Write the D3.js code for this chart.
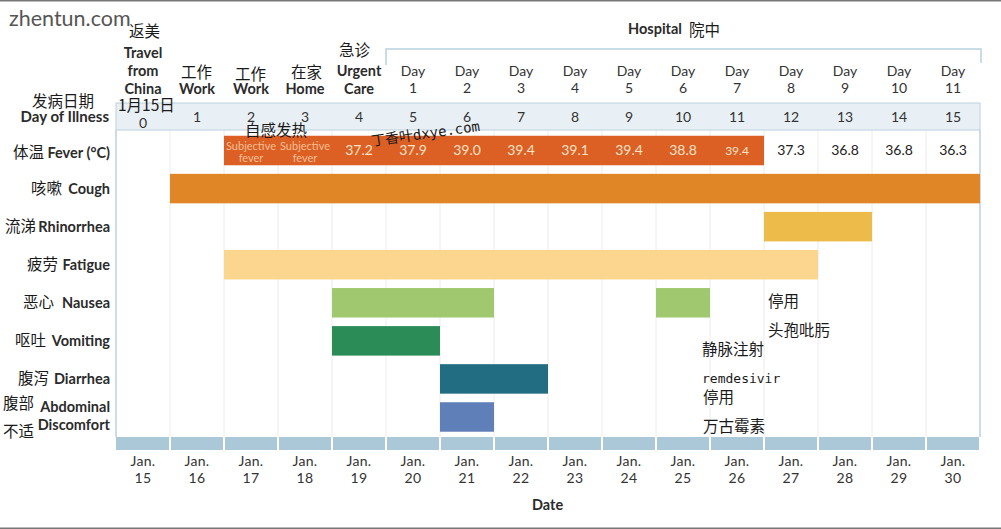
<!DOCTYPE html>
<html>
<head>
<meta charset="utf-8">
<script src="https://cdnjs.cloudflare.com/ajax/libs/d3/7.8.5/d3.min.js"></script>
<style>
    html, body { margin: 0; padding: 0; background: #fff; }
    svg { display: block; }
    text { font-family: Lato, "Noto Sans CJK SC", sans-serif; fill: #2b2b2b; }
    .cjk { font-family: "Noto Sans CJK SC", sans-serif; fill: #1a1a1a; }
    .bold { font-weight: 700; }
</style>
</head>
<body>
<svg id="chart" width="1001" height="529"></svg>
<script>
const dates = ["15", "16", "17", "18", "19", "20", "21", "22", "23", "24", "25", "26", "27", "28", "29", "30"]
const illnessDays = ["0", "1", "2", "3", "4", "5", "6", "7", "8", "9", "10", "11", "12", "13", "14", "15"]
const hospitalDays = ["1", "2", "3", "4", "5", "6", "7", "8", "9", "10", "11"]
const hospitalDates = ["20", "21", "22", "23", "24", "25", "26", "27", "28", "29", "30"]
const symptoms = ["Fever", "Cough", "Rhinorrhea", "Fatigue", "Nausea", "Vomiting", "Diarrhea", "Abdominal"]

// start and end date of each symptom bar, both inclusive
const barSymptoms = ["Fever", "Cough", "Rhinorrhea", "Fatigue", "Nausea", "Nausea", "Vomiting", "Diarrhea", "Abdominal"]
const barStarts = ["17", "16", "27", "17", "19", "25", "19", "21", "21"]
const barEnds = ["26", "30", "28", "27", "21", "25", "20", "22", "21"]

const tempDates = ["19", "20", "21", "22", "23", "24", "25", "26", "27", "28", "29", "30"]
const tempValues = ["37.2", "37.9", "39.0", "39.4", "39.1", "39.4", "38.8", "39.4", "37.3", "36.8", "36.8", "36.3"]

const rowNames = ["Fever (°C)", "Cough", "Rhinorrhea", "Fatigue", "Nausea", "Vomiting", "Diarrhea"]
const rowNamesCn = ["体温", "咳嗽", "流涕", "疲劳", "恶心", "呕吐", "腹泻"]

const svg = d3.select("#chart")

const x = d3.scaleBand().domain(dates).range([116, 980])
const y = d3.scaleBand().domain(symptoms).range([131.5, 436]).paddingInner(0.225).paddingOuter(0.112)
const color = d3.scaleOrdinal()
    .domain(symptoms)
    .range(["#dc5f24", "#e08627", "#ecbb4a", "#fcd58f", "#a0c96f", "#2c8c58", "#236d82", "#5f7fb8"])

// page frame of the screenshot
svg.append("rect").attr("x", 0).attr("y", 0).attr("width", 1001).attr("height", 1.5).attr("fill", "#777")
svg.append("rect").attr("x", 0).attr("y", 527.5).attr("width", 1001).attr("height", 1.5).attr("fill", "#777")

// grid
svg.append("g").selectAll("line")
    .data(dates.slice(1))
    .join("line")
    .attr("x1", d => x(d))
    .attr("x2", d => x(d))
    .attr("y1", 130)
    .attr("y2", 437)
    .attr("stroke", "#ececec")
    .attr("stroke-width", 1)

svg.append("rect")
    .attr("x", x.range()[0]).attr("y", 103)
    .attr("width", x.range()[1] - x.range()[0]).attr("height", 27)
    .attr("fill", "#e9f0f5").attr("stroke", "#b9d1de")

svg.selectAll(".edge")
    .data(x.range())
    .join("line")
    .attr("class", "edge")
    .attr("x1", d => d).attr("x2", d => d)
    .attr("y1", 130).attr("y2", 437)
    .attr("stroke", "#bcd2df").attr("stroke-width", 1.5)

// symptom bars
svg.append("g").selectAll("rect")
    .data(barSymptoms.map((s, i) => ({ s, start: barStarts[i], end: barEnds[i] })))
    .join("rect")
    .attr("x", d => x(d.start))
    .attr("y", d => y(d.s))
    .attr("width", d => x(d.end) + x.bandwidth() - x(d.start))
    .attr("height", y.bandwidth())
    .attr("fill", d => color(d.s))

// strip above the date axis
svg.append("g").selectAll("rect")
    .data(dates)
    .join("rect")
    .attr("x", d => x(d) + (d === dates[0] ? 0 : 1))
    .attr("y", 437)
    .attr("width", d => x.bandwidth() - (d === dates[0] ? 1 : 2))
    .attr("height", 13)
    .attr("fill", "#abc8d9")

// day of illness row
const dayAxis = d3.axisBottom(x).tickSize(0).tickFormat((d, i) => illnessDays[i])
svg.append("g").attr("transform", "translate(0,103)").call(dayAxis)
    .call(g => g.select(".domain").remove())
    .selectAll("text")
    .attr("y", d => d === "15" ? 15 : 9).attr("dy", "0.71em")
    .style("font-size", "14px")
    .style("font-family", "Lato")
    .style("fill", "#333")

// date axis, two lines per tick
const dateAxis = d3.axisBottom(x).tickSize(0).tickFormat("")
svg.append("g").attr("transform", "translate(0,450)").call(dateAxis)
    .call(g => g.select(".domain").remove())
    .selectAll(".tick text")
    .each(function (d) {
        const t = d3.select(this).attr("y", 6).style("font-size", "14px").style("font-family", "Lato").style("fill", "#333").style("letter-spacing", "0.3px")
        t.append("tspan").attr("x", 0).text("Jan.")
        t.append("tspan").attr("x", 0).attr("dy", 17).text(d)
    })

// temperatures
svg.append("g").selectAll("text")
    .data(tempDates.map((d, i) => ({ d, v: tempValues[i] })))
    .join("text")
    .attr("x", t => x(t.d) + x.bandwidth() / 2)
    .attr("y", y("Fever") + y.bandwidth() / 2 + 4.5)
    .attr("text-anchor", "middle")
    .style("font-size", t => t.d === "26" ? "12px" : "14px")
    .style("fill", t => +t.d <= 26 ? "#fbe3c8" : "#222")
    .text(t => t.v)

;["17", "18"].forEach(d => {
    const t = svg.append("text")
        .attr("x", x(d) + x.bandwidth() / 2)
        .attr("y", 150)
        .attr("text-anchor", "middle")
        .style("font-size", "11px")
        .style("fill", "#f6bf95")
    t.append("tspan").attr("x", x(d) + x.bandwidth() / 2).text("Subjective")
    t.append("tspan").attr("x", x(d) + x.bandwidth() / 2).attr("dy", 12).text("fever")
})

// location headers above the axis
function header(d, lines, cls, lastY, step) {
    svg.append("g").selectAll("text")
        .data(lines)
        .join("text")
        .attr("class", cls)
        .attr("x", x(d) + x.bandwidth() / 2)
        .attr("y", (l, i) => lastY - (lines.length - 1 - i) * step)
        .attr("text-anchor", "middle")
        .style("font-size", "14.5px")
        .text(l => l)
}
header("15", ["Travel", "from", "China"], "bold", 94, 18)
header("16", ["Work"], "bold", 94, 18)
header("17", ["Work"], "bold", 94, 18)
header("18", ["Home"], "bold", 94, 18)
header("19", ["Urgent", "Care"], "bold", 94, 18)

hospitalDates.forEach((d, i) => {
    const t = svg.append("text")
        .attr("x", x(d) + x.bandwidth() / 2)
        .attr("y", 76)
        .attr("text-anchor", "middle")
        .style("font-size", "14px")
        .style("fill", "#333")
    t.append("tspan").attr("x", x(d) + x.bandwidth() / 2).text("Day")
    t.append("tspan").attr("x", x(d) + x.bandwidth() / 2).attr("dy", 17).text(hospitalDays[i])
})

svg.append("path")
    .attr("d", d3.line()([[x("20"), 65], [x("20"), 49], [x.range()[1] + 1, 49], [x.range()[1] + 1, 63]]))
    .attr("fill", "none")
    .attr("stroke", "#b9d1de")
    .attr("stroke-width", 1.5)

// row labels, the chinese part was pasted on by hand so each has its own right edge
const cnRightEdge = [44, 62, 36, 58, 54, 46, 49]
rowNames.forEach((name, i) => {
    const cy = y(symptoms[i]) + y.bandwidth() / 2 + (i === 0 ? 2.5 : 0)
    svg.append("text").attr("class", "bold").attr("x", 110).attr("y", cy + 5)
        .attr("text-anchor", "end").style("font-size", "14.5px").text(name)
    svg.append("text").attr("class", "cjk").attr("x", cnRightEdge[i]).attr("y", cy + 5)
        .attr("text-anchor", "end").style("font-size", "15.5px").text(rowNamesCn[i])
})

function note(str, px, py, size, cls, extra) {
    const t = svg.append("text").attr("x", px).attr("y", py).style("font-size", size + "px")
    if (cls) t.attr("class", cls)
    if (extra) extra(t)
    return t.text(str)
}
const endAnchor = t => t.attr("text-anchor", "end")

note("Abdominal", 110, 412, 14.5, "bold", endAnchor)
note("Discomfort", 110, 430, 14.5, "bold", endAnchor)
note("腹部", 3, 409, 15.5, "cjk")
note("不适", 3, 437, 15.5, "cjk")
note("Day of Illness", 109, 122, 15, "bold", endAnchor)
note("发病日期", 32, 107, 15.5, "cjk")
note("Hospital", 628, 34, 14.5, "bold")
note("院中", 689, 36, 15.5, "cjk")
note("Date", 532, 510, 14.5, "bold")

// translated overlays pasted on the picture
note("返美", 129, 37, 15.5, "cjk")
note("1月15日", 118, 111, 15.5, "cjk")
note("工作", 181, 78, 15.5, "cjk")
note("工作", 235, 80, 15.5, "cjk")
note("在家", 291, 78, 15.5, "cjk")
note("急诊", 339, 56, 15.5, "cjk")
note("自感发热", 245, 136, 15.5, "cjk")
note("丁香叶dxye.com", 372, 146, 14, "cjk", t => t.attr("transform", "rotate(-8 372 146)").style("font-family", "'DejaVu Sans Mono', 'Noto Sans CJK SC'"))
note("停用", 768, 307, 15.5, "cjk")
note("头孢吡肟", 768, 336, 15.5, "cjk")
note("静脉注射", 702, 355, 15.5, "cjk")
note("remdesivir", 702, 383, 13, "cjk", t => t.style("font-family", "DejaVu Sans Mono"))
note("停用", 703, 403, 15.5, "cjk")
note("万古霉素", 703, 432, 15.5, "cjk")
note("zhentun.com", 9, 26, 21.5, null, t => t.style("fill", "#555"))
</script>
</body>
</html>
